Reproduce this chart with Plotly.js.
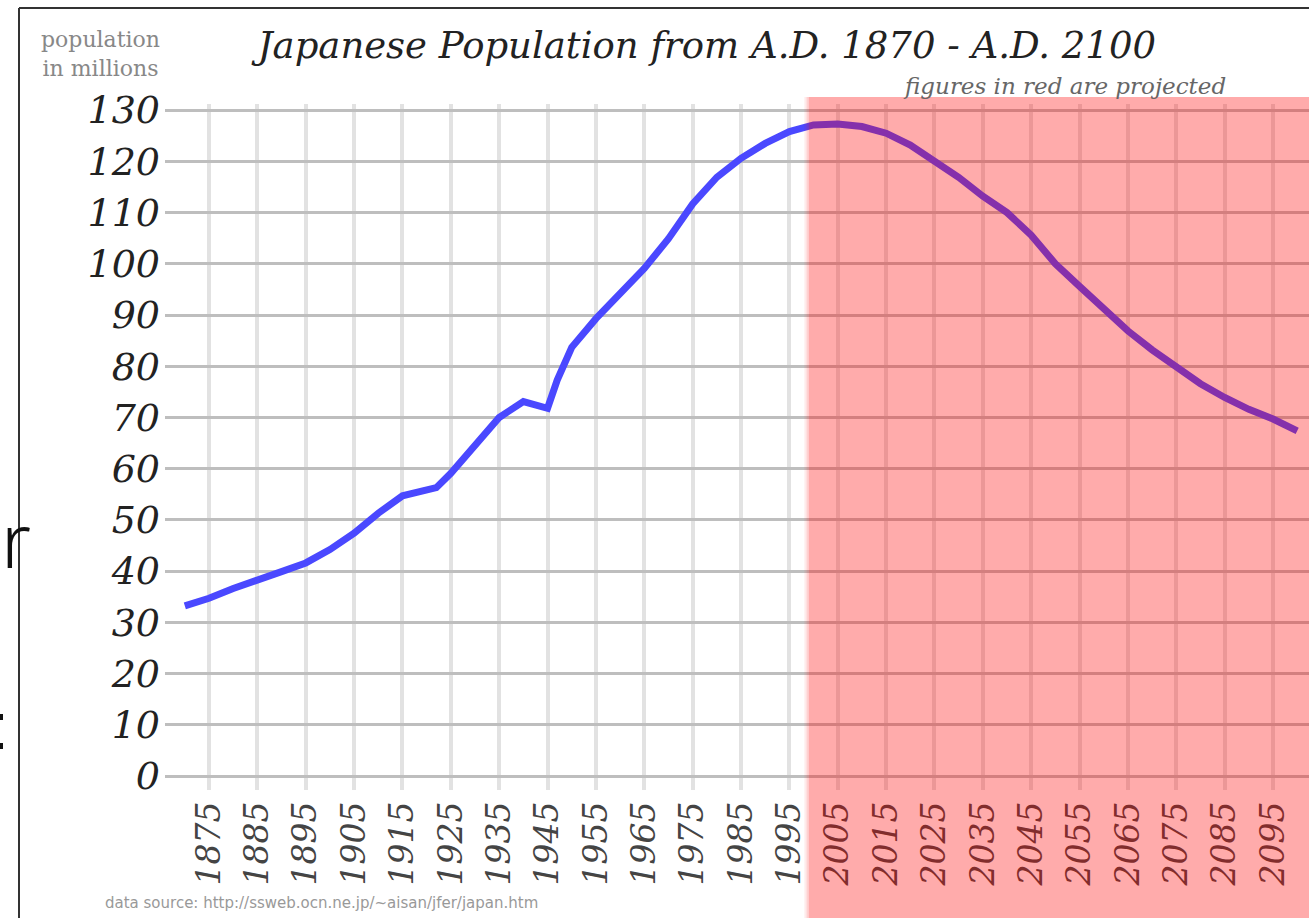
<!DOCTYPE html>
<html>
<head>
<meta charset="utf-8">
<script src="https://cdn.plot.ly/plotly-3.0.1.min.js"></script>
<style>html,body{margin:0;padding:0;background:#fff;}#chart{width:1309px;height:918px;}</style>
</head>
<body>
<div id="chart"></div>
<script>
// Historical population (millions)
const histYears = [1870,1875,1880,1885,1890,1895,1900,1905,1910,1915,1920,1922,1925,1930,1935,1940,1945,1947,1950,1955,1960,1965,1970,1975,1980,1985,1990,1995,2000];
const histPop   = [33.2,34.7,36.6,38.4,39.9,41.6,44.2,47.4,51.3,54.7,55.7,56.3,59.1,64.6,70.0,73.1,71.8,77.3,83.7,89.3,94.4,99.1,104.9,111.7,116.9,120.6,123.5,125.8,127.1];
// Projected population (millions)
const projYears = [2005,2010,2015,2020,2025,2030,2035,2040,2045,2050,2055,2060,2065,2070,2075,2080,2085,2090,2095,2100];
const projPop   = [127.3,126.8,125.5,123.2,120.0,116.9,113.2,110.0,105.6,100.0,95.6,91.4,86.9,83.2,79.8,76.6,73.9,71.6,69.7,67.4];
// Axis ticks
const xTickYears = [1875,1885,1895,1905,1915,1925,1935,1945,1955,1965,1975,1985,1995,2005,2015,2025,2035,2045,2055,2065,2075,2085,2095];
const xTickLabels = xTickYears.map(String);
const yTickVals = [0,10,20,30,40,50,60,70,80,90,100,110,120,130];
const yTickLabels = yTickVals.map(String);
const projectionStart = 1999;

// layout geometry (pixels)
const W = 1309, H = 918, L = 165, R = 0, T = 104, B = 128;
const PW = W - L - R, PH = H - T - B;
const px = p => (p - L) / PW;           // pixel x -> paper x
const py = p => (H - B - p) / PH;       // pixel y -> paper y

const trace = {
  x: histYears.concat(projYears),
  y: histPop.concat(projPop),
  type: 'scatter', mode: 'lines',
  line: {color: '#4a48ff', width: 7},
  hoverinfo: 'skip'
};

const layout = {
  width: W, height: H,
  margin: {l: L, r: R, t: T, b: B, pad: 0},
  paper_bgcolor: '#ffffff', plot_bgcolor: '#ffffff',
  showlegend: false,
  title: {
    text: 'Japanese Population from A.D. 1870 - A.D. 2100',
    font: {family: 'DejaVu Serif', style: 'italic', size: 37, color: '#222'},
    x: 0.54, xanchor: 'center', y: 1 - 45 / H, yanchor: 'middle', xref: 'container', yref: 'container'
  },
  xaxis: {
    range: [1865.9, 2102.44], fixedrange: true,
    tickmode: 'array', tickvals: xTickYears, ticktext: xTickLabels,
    tickangle: -90, ticks: '', ticklabelstandoff: 4,
    tickfont: {family: 'DejaVu Serif', style: 'italic', size: 33, color: '#444'},
    showgrid: true, gridcolor: '#e2e2e2', gridwidth: 4,
    zeroline: false, showline: false
  },
  yaxis: {
    range: [-2.73, 131.2], fixedrange: true,
    tickmode: 'array', tickvals: yTickVals, ticktext: yTickLabels,
    ticks: '', ticklabelstandoff: 4,
    tickfont: {family: 'DejaVu Serif', style: 'italic', size: 38, color: '#222'},
    showgrid: true, gridcolor: '#bebebe', gridwidth: 3,
    zeroline: false, showline: false
  },
  shapes: [
    {type: 'rect', xref: 'x', yref: 'paper', x0: projectionStart - 0.9, x1: projectionStart - 0.45, y0: -0.2, y1: py(97),
     fillcolor: 'rgba(255,0,0,0.08)', line: {width: 0}, layer: 'above'},
    {type: 'rect', xref: 'x', yref: 'paper', x0: projectionStart - 0.45, x1: projectionStart, y0: -0.2, y1: py(97),
     fillcolor: 'rgba(255,0,0,0.18)', line: {width: 0}, layer: 'above'},
    {type: 'rect', xref: 'x', yref: 'paper', x0: projectionStart, x1: 2110, y0: -0.2, y1: py(97),
     fillcolor: 'rgba(255,0,0,0.33)', line: {width: 0}, layer: 'above'},
    // frame
    {type: 'line', xref: 'paper', yref: 'paper', x0: px(19), x1: px(19), y0: py(8), y1: py(930),
     line: {color: '#333', width: 2}, layer: 'above'},
    {type: 'line', xref: 'paper', yref: 'paper', x0: px(19), x1: px(1320), y0: py(8), y1: py(8),
     line: {color: '#333', width: 2}, layer: 'above'},
    // fragments at left edge
    {type: 'rect', xref: 'paper', yref: 'paper', x0: px(0), x1: px(3), y0: py(714), y1: py(720),
     fillcolor: '#111', line: {width: 0}, layer: 'above'},
    {type: 'rect', xref: 'paper', yref: 'paper', x0: px(0), x1: px(3), y0: py(743), y1: py(749),
     fillcolor: '#111', line: {width: 0}, layer: 'above'}
  ],
  annotations: [
    {text: 'figures in red are projected', xref: 'paper', yref: 'paper', x: px(1228), y: py(86),
     xanchor: 'right', yanchor: 'middle', showarrow: false,
     font: {family: 'DejaVu Serif', style: 'italic', size: 23, color: '#666'}},
    {text: 'population<br>in millions', xref: 'paper', yref: 'paper', x: px(100), y: py(54),
     xanchor: 'center', yanchor: 'middle', showarrow: false, align: 'center',
     font: {family: 'DejaVu Serif', size: 22, color: '#888'}},
    {text: 'data source: http://ssweb.ocn.ne.jp/~aisan/jfer/japan.htm', xref: 'paper', yref: 'paper',
     x: px(103), y: py(903), xanchor: 'left', yanchor: 'middle', showarrow: false,
     font: {family: 'DejaVu Sans', size: 15, color: '#999'}},
    {text: 'r', xref: 'paper', yref: 'paper', x: px(0), y: py(538), xanchor: 'left', yanchor: 'middle',
     showarrow: false, borderpad: 0,
     font: {family: 'Noto Sans', size: 76, weight: 300, color: '#111'}}
  ]
};

Plotly.newPlot('chart', [trace], layout, {staticPlot: true, displayModeBar: false});
</script>
</body>
</html>
